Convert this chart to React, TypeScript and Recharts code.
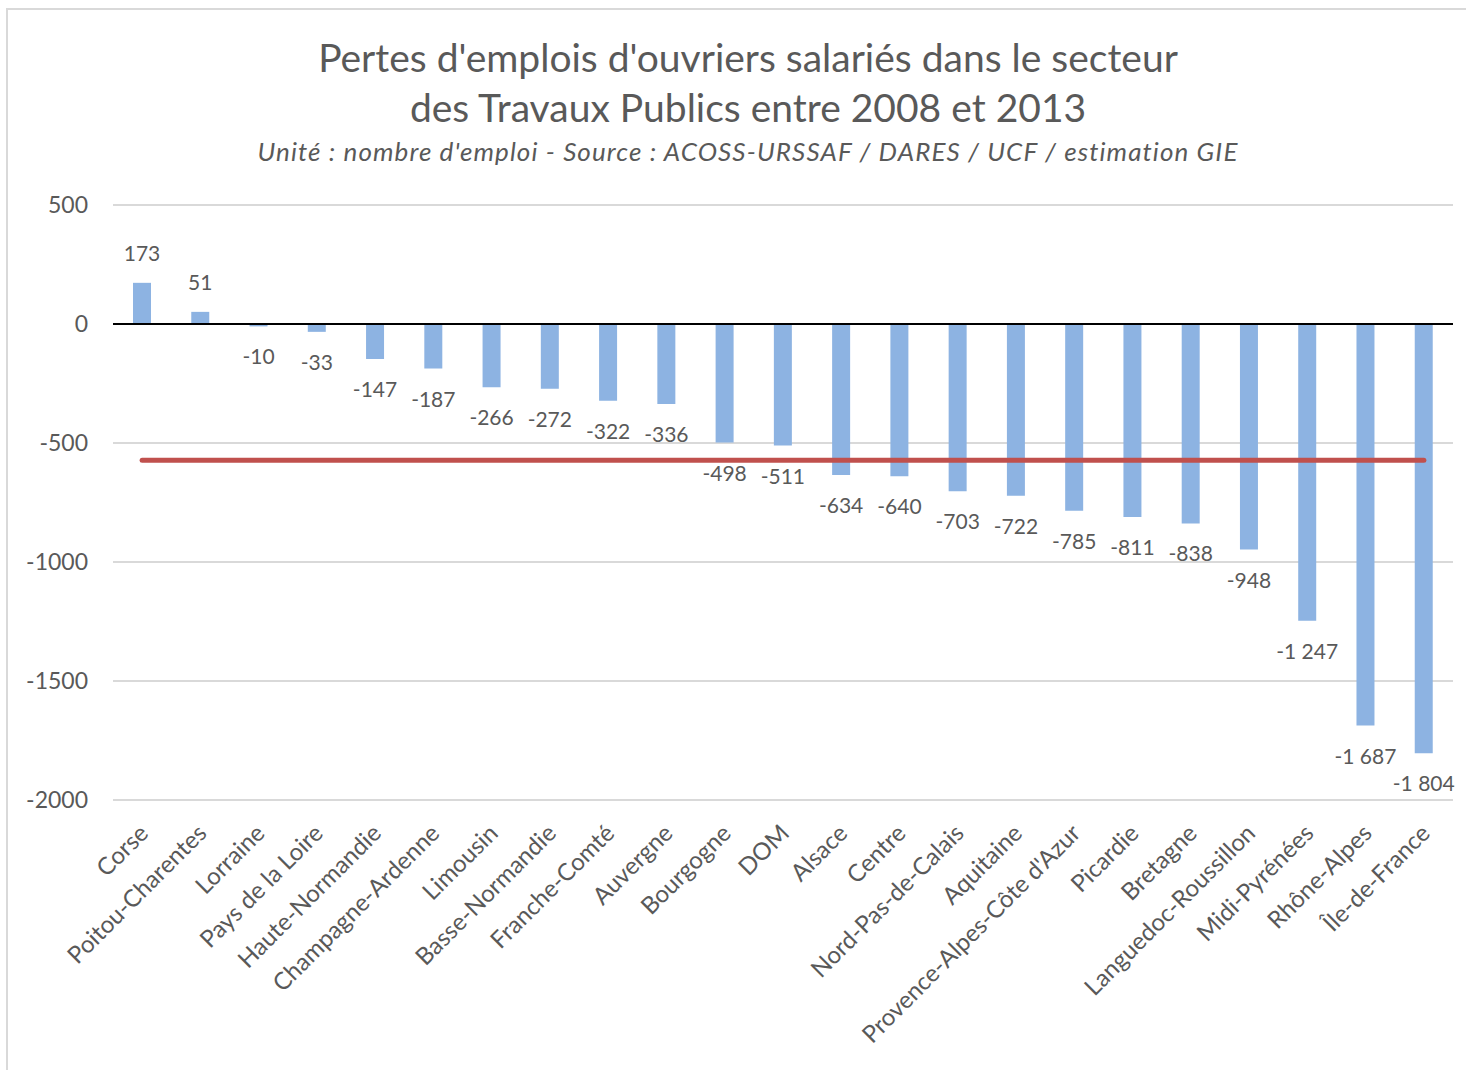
import React from 'react';
import { ComposedChart, Bar, Line, XAxis, YAxis, CartesianGrid, ReferenceLine, LabelList } from 'recharts';

const regions = [
  'Corse', 'Poitou-Charentes', 'Lorraine', 'Pays de la Loire', 'Haute-Normandie', 'Champagne-Ardenne',
  'Limousin', 'Basse-Normandie', 'Franche-Comté', 'Auvergne', 'Bourgogne', 'DOM', 'Alsace', 'Centre',
  'Nord-Pas-de-Calais', 'Aquitaine', "Provence-Alpes-Côte d'Azur", 'Picardie', 'Bretagne',
  'Languedoc-Roussillon', 'Midi-Pyrénées', 'Rhône-Alpes', 'Île-de-France',
];
const pertes = [
  173, 51, -10, -33, -147, -187, -266, -272, -322, -336, -498, -511, -634, -640, -703, -722, -785,
  -811, -838, -948, -1247, -1687, -1804,
];
const moyenne = -573;
const yTicks = [-2000, -1500, -1000, -500, 0, 500];

const data = regions.map((region, i) => ({ region, pertes: pertes[i], moyenne }));

const FONT = 'Lato, "Noto Sans", sans-serif';
const GREY = '#595959';

const fmt = (v: number) => String(v).replace(/\B(?=(\d{3})+(?!\d))/g, ' ');

const ValueLabel = (props: any) => {
  const { x, y, width, height, value } = props;
  const top = Math.min(y, y + height);
  const bottom = Math.max(y, y + height);
  const cx = x + width / 2;
  const ty = value >= 0 ? top - 22 : bottom + 38;
  return (
    <text x={cx} y={ty} textAnchor="middle" fill={GREY} fontSize={21} fontFamily={FONT}>
      {fmt(value)}
    </text>
  );
};

const RegionTick = (props: any) => {
  const { x, y, payload } = props;
  const ax = x + 2;
  const ay = y + 21;
  return (
    <text x={ax} y={ay} transform={`rotate(-45, ${ax}, ${ay})`} textAnchor="end" fill={GREY}
      fontSize={24} fontFamily={FONT} dy={8}>
      {payload.value}
    </text>
  );
};

const ValueTick = (props: any) => {
  const { y, payload } = props;
  return (
    <text x={88} y={y} dy={8} textAnchor="end" fill={GREY} fontSize={23} fontFamily={FONT}>
      {payload.value}
    </text>
  );
};

export default function App() {
  return (
    <div style={{ position: 'absolute', left: 0, top: 0, width: 1466, height: 1070, background: '#fff', fontFamily: FONT }}>
      <div style={{ position: 'absolute', left: 6, top: 8, width: 1470, height: 1080, border: '2px solid #D9D9D9' }} />
      <div style={{ position: 'absolute', left: 15, top: 32, width: 1466, textAlign: 'center', color: GREY }}>
        <div style={{ fontSize: 39, lineHeight: '50px' }}>Pertes d'emplois d'ouvriers salariés dans le secteur</div>
        <div style={{ fontSize: 39, lineHeight: '50px' }}>des Travaux Publics entre 2008 et 2013</div>
        <div style={{ fontSize: 26, lineHeight: '38px', fontStyle: 'italic', letterSpacing: 1.1 }}>
          Unité : nombre d'emploi - Source : ACOSS-URSSAF / DARES / UCF / estimation GIE
        </div>
      </div>
      <div style={{ position: 'absolute', left: 0, top: 0 }}>
        <ComposedChart width={1466} height={1070} data={data} margin={{ top: 205, right: 13, bottom: 70, left: 0 }}>
          <CartesianGrid horizontal vertical={false} stroke="#D9D9D9" strokeWidth={2} />
          <XAxis dataKey="region" interval={0} axisLine={false} tickLine={false} height={200} tick={<RegionTick />} />
          <YAxis type="number" domain={[-2000, 500]} ticks={yTicks} width={113} axisLine={false} tickLine={false}
            tick={<ValueTick />} />
          <Bar dataKey="pertes" fill="#8DB3E2" barSize={18} isAnimationActive={false}>
            <LabelList dataKey="pertes" content={<ValueLabel />} />
          </Bar>
          <ReferenceLine y={0} stroke="#000" strokeWidth={2} />
          <Line dataKey="moyenne" stroke="#C0504D" strokeWidth={5} strokeLinecap="round" dot={false}
            activeDot={false} isAnimationActive={false} />
        </ComposedChart>
      </div>
    </div>
  );
}
